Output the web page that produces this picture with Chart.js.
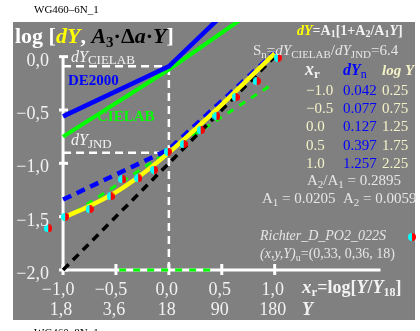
<!DOCTYPE html>
<html>
<head>
<meta charset="utf-8">
<script src="https://cdn.jsdelivr.net/npm/chart.js@4/dist/chart.umd.min.js"></script>
<style>
  html, body { margin: 0; padding: 0; background: #fff; }
  #wrap { width: 420px; height: 331px; position: relative; }
</style>
</head>
<body>
<div id="wrap"><canvas id="c" width="420" height="331"></canvas></div>
<script>
// axis ticks (log units)
const xTicks = [-1, -0.5, 0, 0.5, 1];
const xTickLabels = ['−1,0', '−0,5', '0,0', '0,5', '1,0'];
const yValueLabels = ['1,8', '3,6', '18', '90', '180'];
const yTicks = [0, -0.5, -1, -1.5, -2];
const yTickLabels = ['0,0', '−0,5', '−1,0', '−1,5', '−2,0'];
const axisX = [-1, 2];
const axisY = [-2, 0];

// solid threshold lines (log dY)
const lineX = [-1, 0, 1];
const de2000Y = [-0.56, -0.09, 0.86];
const cielabY = [-0.75, -0.12, 0.57];
// same lines scaled down to JND (dashed)
const de2000JndY = [-1.34, -0.87, 0.04];
const cielabJndX = [-1, 0.96];
const cielabJndY = [-1.53, -0.27];
// reference slope 1
const refX = [-1, 1];
const refY = [-2, 0];
// fitted curve dY = A1[1 + A2/A1 Y]
const fitX = [-1, -0.75, -0.5, -0.25, 0, 0.25, 0.5, 0.75, 1];
const fitY = [-1.51, -1.40, -1.27, -1.10, -0.90, -0.68, -0.45, -0.21, 0.03];
// measured points
const ptX = [-1.14, -0.98, -0.75, -0.55, -0.44, -0.29, -0.14, -0.01, 0.14, 0.30, 0.45, 0.63, 0.83, 1.03];
const ptY = [-1.61, -1.50, -1.43, -1.31, -1.15, -1.14, -1.06, -0.89, -0.82, -0.69, -0.56, -0.38, -0.23, -0.01];
// guide levels
const guideCielab = -0.09;
const guideJnd = -0.90;
const rangeX = [-0.47, 0.43];

const SERIF = '"Liberation Serif", "Times New Roman", serif';
const zip = (xs, ys) => xs.map((x, i) => ({ x, y: ys[i] }));

function halfDot(r) {
  const c = document.createElement('canvas');
  c.width = c.height = 2 * r;
  const g = c.getContext('2d');
  g.fillStyle = '#00ffff';
  g.beginPath(); g.moveTo(r, r); g.arc(r, r, r, Math.PI / 2, Math.PI * 1.5); g.fill();
  g.fillStyle = '#ff0000';
  g.beginPath(); g.moveTo(r, r); g.arc(r, r, r, -Math.PI / 2, Math.PI / 2); g.fill();
  return c;
}
const dot = halfDot(4);

function runs(ctx, x, y, parts) {
  parts.forEach(p => {
    ctx.font = p.f;
    ctx.fillStyle = p.c;
    ctx.fillText(p.t, x, y + (p.dy || 0));
    x += ctx.measureText(p.t).width;
  });
}

const bgPlugin = {
  id: 'bg',
  beforeDraw(chart) {
    const { ctx, chartArea: a } = chart;
    ctx.save();
    ctx.fillStyle = '#808080';
    ctx.fillRect(a.left, a.top, a.right - a.left, a.bottom - a.top);
    ctx.fillStyle = '#000';
    ctx.font = '11px ' + SERIF;
    ctx.textBaseline = 'alphabetic';
    ctx.fillText('WG460–6N_1', 34, 13);
    ctx.fillText('WG460–8N_1', 34, 336);
    ctx.restore();
  },
  beforeDatasetsDraw(chart) {
    const { ctx } = chart;
    const sx = chart.scales.x, sy = chart.scales.y;
    ctx.save();
    ctx.strokeStyle = '#ffffff';
    ctx.lineWidth = 3;
    ctx.beginPath();
    ctx.moveTo(sx.getPixelForValue(axisX[0]), sy.getPixelForValue(axisY[0]));
    ctx.lineTo(sx.getPixelForValue(axisX[0]), sy.getPixelForValue(axisY[1]));
    ctx.moveTo(sx.getPixelForValue(axisX[0]), sy.getPixelForValue(axisY[0]));
    ctx.lineTo(sx.getPixelForValue(axisX[1]), sy.getPixelForValue(axisY[0]));
    ctx.stroke();
    const x0 = sx.getPixelForValue(axisX[0]);
    yTicks.forEach(v => {
      const py = sy.getPixelForValue(v);
      ctx.beginPath(); ctx.moveTo(x0 - 4, py); ctx.lineTo(x0 + 5, py); ctx.stroke();
    });
    const y0 = sy.getPixelForValue(axisY[0]);
    xTicks.forEach(v => {
      const px = sx.getPixelForValue(v);
      ctx.beginPath(); ctx.moveTo(px, y0 - 6); ctx.lineTo(px, y0 + 5); ctx.stroke();
    });
    ctx.restore();
  },
  afterDatasetsDraw(chart) {
    const { ctx } = chart;
    const sx = chart.scales.x, sy = chart.scales.y;
    const W = '#f2f2f2', LY = '#f4f2c8';
    ctx.save();
    ctx.textBaseline = 'alphabetic';

    // tick labels
    ctx.font = '18px ' + SERIF;
    ctx.fillStyle = W;
    ctx.textAlign = 'right';
    yTicks.forEach((v, i) => ctx.fillText(yTickLabels[i], 49, sy.getPixelForValue(v) + 9));
    ctx.textAlign = 'center';
    xTicks.forEach((v, i) => {
      const px = sx.getPixelForValue(v);
      ctx.fillText(xTickLabels[i], px - (v < 0 ? 5 : 2), 295);
      ctx.fillText(yValueLabels[i], px - 2, 315);
    });
    ctx.textAlign = 'left';

    // title
    const B = 'bold 22px ' + SERIF, BI = 'italic bold 22px ' + SERIF;
    runs(ctx, 15, 43, [
      { t: 'log [', f: B, c: '#ffffff' },
      { t: 'dY', f: BI, c: '#ffff00' },
      { t: ', ', f: B, c: '#ffffff' },
      { t: 'A', f: BI, c: '#000' },
      { t: '3', f: 'bold 15px ' + SERIF, c: '#000', dy: 4 },
      { t: '·Δ', f: B, c: '#000' },
      { t: 'a', f: BI, c: '#000' },
      { t: '·', f: B, c: '#000' },
      { t: 'Y', f: BI, c: '#000' },
      { t: ']', f: B, c: '#ffffff' }
    ]);

    // in-plot labels
    runs(ctx, 71, 62, [
      { t: 'dY', f: 'italic 16px ' + SERIF, c: W },
      { t: 'CIELAB', f: '13px ' + SERIF, c: W, dy: 2 }
    ]);
    runs(ctx, 71, 145, [
      { t: 'dY', f: 'italic 16px ' + SERIF, c: W },
      { t: 'JND', f: '13px ' + SERIF, c: W, dy: 3 }
    ]);
    ctx.font = 'bold 15px ' + SERIF;
    ctx.fillStyle = '#0000ff';
    ctx.fillText('DE2000', 68, 85);
    ctx.fillStyle = '#00ff00';
    ctx.fillText('CIELAB', 97, 121);

    // x axis title
    runs(ctx, 302, 293, [
      { t: 'x', f: 'italic bold 19px ' + SERIF, c: W },
      { t: 'r', f: 'bold 13px ' + SERIF, c: W, dy: 3 },
      { t: '=log[', f: 'bold 18px ' + SERIF, c: W },
      { t: 'Y', f: 'italic bold 18px ' + SERIF, c: W },
      { t: '/', f: 'bold 18px ' + SERIF, c: W },
      { t: 'Y', f: 'italic bold 18px ' + SERIF, c: W },
      { t: '18', f: 'bold 12px ' + SERIF, c: W, dy: 3 },
      { t: ']', f: 'bold 18px ' + SERIF, c: W }
    ]);
    runs(ctx, 302, 315, [{ t: 'Y', f: 'italic bold 18px ' + SERIF, c: W }]);

    // formula block
    const fb = 'bold 14px ' + SERIF, fs = 'bold 10px ' + SERIF;
    runs(ctx, 297, 35, [
      { t: 'dY', f: 'italic bold 14px ' + SERIF, c: '#ffff00' },
      { t: '=A', f: fb, c: W }, { t: '1', f: fs, c: W, dy: 2 },
      { t: '[1+A', f: fb, c: W }, { t: '2', f: fs, c: W, dy: 2 },
      { t: '/A', f: fb, c: W }, { t: '1', f: fs, c: W, dy: 2 },
      { t: 'Y', f: 'italic bold 14px ' + SERIF, c: W },
      { t: ']', f: fb, c: W }
    ]);
    const sf = '15px ' + SERIF, sif = 'italic 15px ' + SERIF, ss = '11px ' + SERIF;
    const G = '#e6e6e6';
    runs(ctx, 253, 55, [
      { t: 'S', f: sf, c: G }, { t: 'n', f: ss, c: G, dy: 3 },
      { t: '=', f: sf, c: G },
      { t: 'dY', f: sif, c: G }, { t: 'CIELAB', f: ss, c: G, dy: 3 },
      { t: '/', f: sf, c: G },
      { t: 'dY', f: sif, c: G }, { t: 'JND', f: ss, c: G, dy: 3 },
      { t: '=6.4', f: sf, c: G }
    ]);

    // table
    runs(ctx, 305, 75, [
      { t: 'x', f: 'italic bold 18px ' + SERIF, c: W },
      { t: 'r', f: 'bold 13px ' + SERIF, c: W, dy: 3 }
    ]);
    runs(ctx, 343, 75, [
      { t: 'dY', f: 'italic bold 16px ' + SERIF, c: '#0000ff' },
      { t: 'n', f: '12px ' + SERIF, c: '#0000ff', dy: 3 }
    ]);
    runs(ctx, 382, 75, [{ t: 'log Y', f: 'italic bold 15px ' + SERIF, c: LY }]);
    const colXr = ['−1.0', '−0.5', '0.0', '0.5', '1.0'];
    const colDy = ['0.042', '0.077', '0.127', '0.397', '1.257'];
    const colLog = ['0.25', '0.75', '1.25', '1.75', '2.25'];
    ctx.font = '15px ' + SERIF;
    colXr.forEach((t, i) => {
      const by = 94.5 + i * 18.4;
      ctx.fillStyle = LY; ctx.fillText(t, 306, by);
      ctx.fillStyle = '#0000ff'; ctx.fillText(colDy[i], 343, by);
      ctx.fillStyle = LY; ctx.fillText(colLog[i], 382, by);
    });
    const af = '15px ' + SERIF, as = '11px ' + SERIF;
    runs(ctx, 307, 185, [
      { t: 'A', f: af, c: G }, { t: '2', f: as, c: G, dy: 3 },
      { t: '/A', f: af, c: G }, { t: '1', f: as, c: G, dy: 3 },
      { t: ' = 0.2895', f: af, c: G }
    ]);
    runs(ctx, 262, 203, [
      { t: 'A', f: af, c: G }, { t: '1', f: as, c: G, dy: 3 },
      { t: ' = 0.0205  A', f: af, c: G }, { t: '2', f: as, c: G, dy: 3 },
      { t: ' = 0.0059', f: af, c: G }
    ]);
    runs(ctx, 260, 240, [{ t: 'Richter_D_PO2_022S', f: 'italic 14px ' + SERIF, c: G }]);
    ctx.drawImage(dot, 408, 233);
    runs(ctx, 260, 258, [
      { t: '(x,y,Y)', f: 'italic 14px ' + SERIF, c: G },
      { t: 'u', f: '10px ' + SERIF, c: G, dy: 3 },
      { t: '=(0,33, 0,36, 18)', f: '14px ' + SERIF, c: G }
    ]);
    ctx.restore();
  }
};

const line = (data, color, width, dash, order) => ({
  data, showLine: true, borderColor: color, borderWidth: width,
  borderDash: dash || [], pointRadius: 0, fill: false, order
});

const fitLine = line(zip(fitX, fitY), '#ffff00', 4.5, null, 1);
fitLine.cubicInterpolationMode = 'monotone';

new Chart(document.getElementById('c'), {
  type: 'scatter',
  data: {
    datasets: [
      { data: zip(ptX, ptY), pointStyle: dot, pointRadius: 4, order: 0, showLine: false },
      fitLine,
      line(zip(lineX, de2000Y), '#0000ff', 4.5, null, 2),
      line(zip(lineX, cielabY), '#00ff00', 4, null, 3),
      line(zip(lineX, de2000JndY), '#0000ff', 4.5, [9, 6], 4),
      line(zip(refX, refY), '#000000', 3.5, [8, 6], 5),
      line(zip(cielabJndX, cielabJndY), '#00ff00', 3, [7, 7], 6),
      line(zip(rangeX, [axisY[0], axisY[0]]), '#00ff00', 3, [7, 7], 7),
      line(zip([axisX[0], 0], [guideCielab, guideCielab]), '#ffffff', 2.5, [8, 5], 8),
      line(zip([axisX[0], 0], [guideJnd, guideJnd]), '#ffffff', 2.5, [8, 5], 8),
      line(zip([0, 0], [axisY[0], guideCielab]), '#ffffff', 2.5, [8, 5], 8)
    ]
  },
  options: {
    responsive: false,
    animation: false,
    events: [],
    layout: { padding: { left: 13, right: 3, top: 22, bottom: 11 } },
    scales: {
      x: { type: 'linear', min: -1.473, max: 2.326, display: false },
      y: { type: 'linear', min: -2.469, max: 0.325, display: false }
    },
    plugins: { legend: { display: false }, tooltip: { enabled: false } }
  },
  plugins: [bgPlugin]
});
</script>
</body>
</html>
